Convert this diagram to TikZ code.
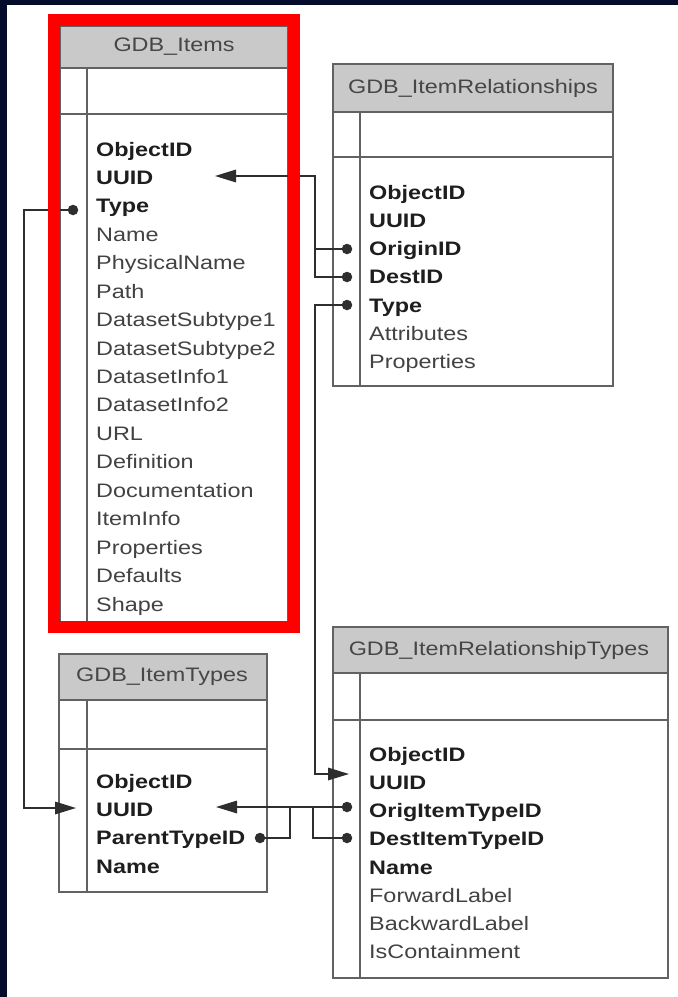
\documentclass[tikz,border=0pt]{standalone}
\usepackage{fontspec}
\setmainfont[FakeStretch=1.2]{Liberation Sans}
\usetikzlibrary{arrows.meta}
\definecolor{navy}{HTML}{030D2B}
\definecolor{linegray}{HTML}{626262}
\definecolor{hdrgray}{HTML}{C9C9C9}
\definecolor{conngray}{HTML}{2E2E2E}
\definecolor{keyblack}{HTML}{1E1E1E}
\definecolor{fieldgray}{HTML}{424242}
\definecolor{titlegray}{HTML}{464646}
\newcommand{\fsz}{\fontsize{19.5}{22}\selectfont}
\begin{document}
\begin{tikzpicture}[x=1pt,y=-1pt,
  tbl/.style={draw=linegray, line width=1.9pt},
  hdr/.style={fill=hdrgray},
  fld/.style={anchor=base west, inner sep=0pt, font=\fsz, text=fieldgray},
  keyfld/.style={anchor=base west, inner sep=0pt, font=\fsz\bfseries, text=keyblack},
  title/.style={inner sep=0pt, font=\fsz, text=titlegray},
  conn/.style={draw=conngray, line width=1.6pt},
  tip/.style={-{Triangle[length=21pt,width=12.5pt]}},
  dot/.style={circle, fill=conngray, inner sep=0pt, minimum size=10.5pt}
]
\useasboundingbox (0,0) rectangle (678,997);
\fill[white] (0,0) rectangle (678,997);

% ---------- GDB_Items ----------
\fill[hdr] (60,26) rectangle (288,68);
\draw[tbl] (60,26) rectangle (288,628);
\draw[tbl] (60,68) -- (288,68) (60,114) -- (288,114) (87,68) -- (87,628);
\node[title] (it-title) at (174,47) {GDB\_Items};
\foreach [count=\i from 0] \t in {ObjectID,UUID,Type}
  \node[keyfld] (it-\t) at (96,{156+28.44*\i}) {\t};
\foreach [count=\i from 3] \t in {Name,PhysicalName,Path,DatasetSubtype1,DatasetSubtype2,DatasetInfo1,DatasetInfo2,URL,Definition,Documentation,ItemInfo,Properties,Defaults,Shape}
  \node[fld] (it-\t) at (96,{156+28.44*\i}) {\t};

% ---------- GDB_ItemRelationships ----------
\fill[hdr] (333,64) rectangle (613,112);
\draw[tbl] (333,64) rectangle (613,386);
\draw[tbl] (333,112) -- (613,112) (333,157) -- (613,157) (360,112) -- (360,386);
\node[title] (rr-title) at (473,88) {GDB\_ItemRelationships};
\foreach [count=\i from 0] \t in {ObjectID,UUID,OriginID,DestID,Type}
  \node[keyfld] (rr-\t) at (369,{199+28.33*\i}) {\t};
\foreach [count=\i from 5] \t in {Attributes,Properties}
  \node[fld] (rr-\t) at (369,{199+28.33*\i}) {\t};

% ---------- GDB_ItemRelationshipTypes ----------
\fill[hdr] (333,627) rectangle (668,673);
\draw[tbl] (333,627) rectangle (668,978);
\draw[tbl] (333,673) -- (668,673) (333,720) -- (668,720) (360,673) -- (360,978);
\node[title] (rt-title) at (499,650) {GDB\_ItemRelationshipTypes};
\foreach [count=\i from 0] \t in {ObjectID,UUID,OrigItemTypeID,DestItemTypeID,Name}
  \node[keyfld] (rt-\t) at (369,{761+28.25*\i}) {\t};
\foreach [count=\i from 5] \t in {ForwardLabel,BackwardLabel,IsContainment}
  \node[fld] (rt-\t) at (369,{761+28.25*\i}) {\t};

% ---------- GDB_ItemTypes ----------
\fill[hdr] (59,654) rectangle (267,700);
\draw[tbl] (59,654) rectangle (267,892);
\draw[tbl] (59,700) -- (267,700) (59,749) -- (267,749) (87,700) -- (87,892);
\node[title] (ty-title) at (162,677) {GDB\_ItemTypes};
\foreach [count=\i from 0] \t in {ObjectID,UUID,ParentTypeID,Name}
  \node[keyfld] (ty-\t) at (96,{788+28.4*\i}) {\t};

% ---------- relationship connectors ----------
\coordinate (it-type-end)   at (73,210);
\coordinate (it-uuid-tip)   at (215,176);
\coordinate (rr-origin-end) at (347,249);
\coordinate (rr-dest-end)   at (347,277);
\coordinate (rr-type-end)   at (347,305);
\coordinate (rt-uuid-tip)   at (349,774);
\coordinate (rt-orig-end)   at (347,807);
\coordinate (rt-dest-end)   at (347,838);
\coordinate (ty-uuid-tip)   at (216,807);
\coordinate (ty-uuid-in)    at (76,808);
\coordinate (ty-parent-end) at (260,838);
\coordinate (bus-a) at (315,176);
\coordinate (bus-b) at (315,774);
\coordinate (bus-c) at (24,808);
\coordinate (bus-d) at (313,807);
\coordinate (bus-e) at (290,807);

\draw[conn,tip] (rr-origin-end) -| (bus-a) -- (it-uuid-tip);
\draw[conn] (rr-dest-end) -| (bus-a);
\draw[conn,tip] (rr-type-end) -| (bus-b) -- (rt-uuid-tip);
\draw[conn,tip] (it-type-end) -| (bus-c) -- (ty-uuid-in);
\draw[conn,tip] (rt-orig-end) -- (ty-uuid-tip);
\draw[conn] (rt-dest-end) -| (bus-d);
\draw[conn] (ty-parent-end) -| (bus-e);

\foreach \p in {it-type-end,rr-origin-end,rr-dest-end,rr-type-end,rt-orig-end,rt-dest-end,ty-parent-end}
  \node[dot] at (\p) {};

% ---------- highlight frame ----------
\draw[red, line width=12pt] (54,20) rectangle (294,627);

% ---------- dark edge band ----------
\fill[navy] (0,0) rectangle (678,4.5);
\fill[navy] (0,0) rectangle (6.5,997);
\end{tikzpicture}
\end{document}
